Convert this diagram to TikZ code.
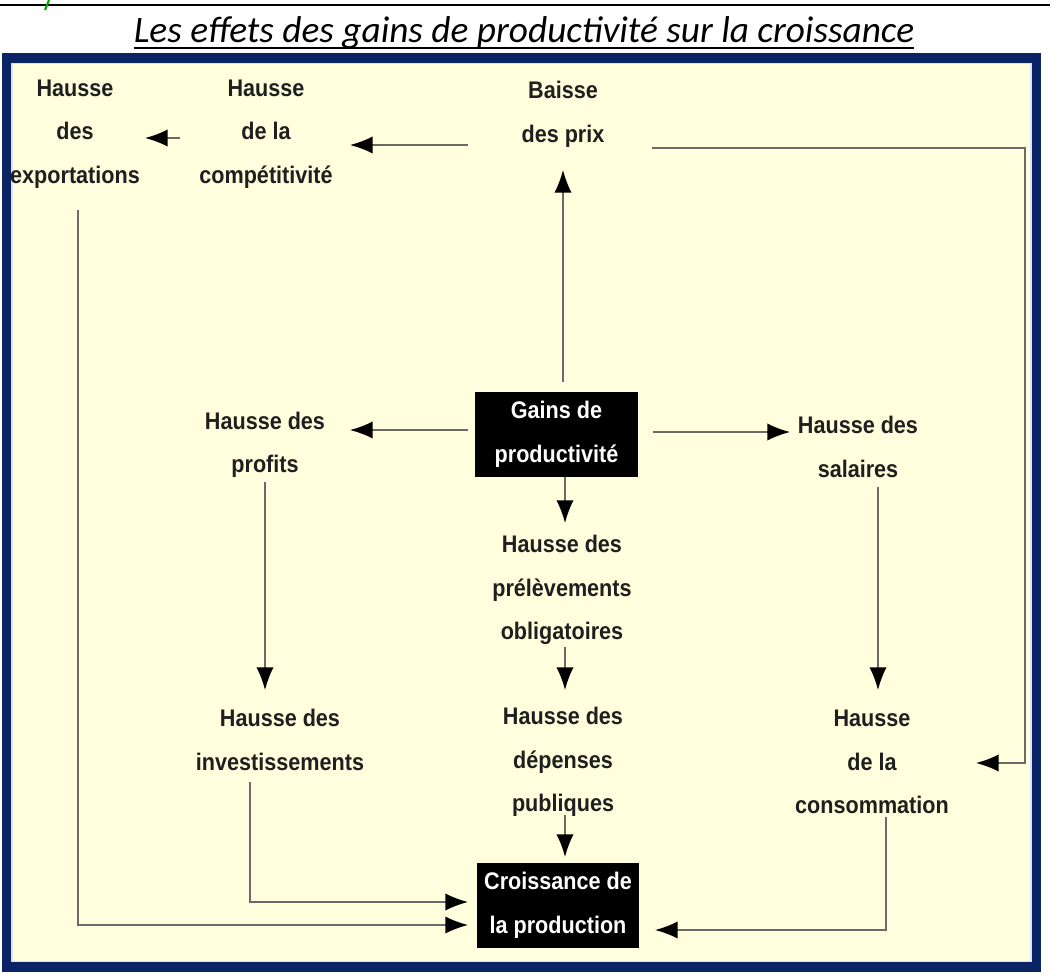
\documentclass[tikz,border=0pt]{standalone}
\usepackage{fontspec}
\setmainfont[FakeStretch=0.9]{Liberation Sans}
\newfontfamily\titlefont{Carlito}
\usetikzlibrary{arrows.meta,calc}

\definecolor{framenavy}{HTML}{0B2466}
\definecolor{paper}{HTML}{FFFEDD}
\definecolor{linegray}{HTML}{6A6A6A}

\tikzset{
  effet/.style={align=center, inner sep=0pt, text=black!88,
    font=\bfseries\fontsize{18}{32.6}\selectfont},
  blackbox/.style={effet, fill=black, text=white,
    minimum width=122pt, minimum height=64pt},
  link/.style={draw=linegray, line width=1.2pt},
  arr/.style={link, -{Latex[length=17pt,width=13pt,color=black]}},
}

\begin{document}
\begin{tikzpicture}[x=0.75pt,y=-0.75pt]
  \useasboundingbox (0,0) rectangle (1057,975);

  % title
  \draw[line width=2pt] (0,5) -- (1050,5);
  \draw[green!65!black, line width=1.6pt] (49,0) -- (45,10);
  \node[anchor=base, inner sep=0pt,
    font=\titlefont\itshape\fontsize{28}{32}\selectfont]
  (titre) at (524,42) {Les effets des gains de productivité sur la croissance};
  \draw[line width=1.3pt] ($(titre.base west)+(0,6)$) -- ($(titre.base east)+(0,6)$);

  % frame
  \draw[framenavy, fill=paper, line width=7.5pt] (7,58) rectangle (1036,967);
  \draw[blue!12, line width=0.8pt] (12,63.5) rectangle (1031,961.5);

  % effects
  \node[effet] (export) at (75,134) {Hausse\\des\\exportations};
  \node[effet] (compet) at (266,134) {Hausse\\de la\\compétitivité};
  \node[effet] (prix) at (563,114.5) {Baisse\\des prix};
  \node[blackbox] (gains) at (556.5,434.5) {Gains de\\productivité};
  \node[effet] (profits) at (265,445) {Hausse des\\profits};
  \node[effet] (salaires) at (858,447) {Hausse des\\salaires};
  \node[effet] (prelev) at (562,590) {Hausse des\\prélèvements\\obligatoires};
  \node[effet] (invest) at (280,740) {Hausse des\\investissements};
  \node[effet] (depenses) at (563,762) {Hausse des\\dépenses\\publiques};
  \node[effet] (conso) at (872,762) {Hausse\\de la\\consommation};
  \node[blackbox] (croiss) at (558,905.5) {Croissance de\\la production};

  % top row
  \draw[arr] ($(prix)+(-95,30.5)$) -- ($(compet)+(84,11)$);
  \draw[arr] ($(compet)+(-86,4)$) -- ($(export)+(70,4)$);
  \draw[arr] ($(prix)+(89,33.5)$) -| ($(conso)+(153,1)$) -- ($(conso)+(104,1)$);

  % from the gains
  \draw[arr] ($(gains)+(6.5,-52.5)$) -- ($(prix)+(0,55.5)$);
  \draw[arr] ($(gains)+(-88.5,-4.5)$) -- ($(profits)+(85,-15)$);
  \draw[arr] ($(gains)+(96.5,-2.5)$) -- ($(salaires)+(-68,-15)$);
  \draw[arr] ($(gains)+(8.5,42.5)$) -- ($(prelev)+(3,-67)$);
  \draw[arr] ($(prelev)+(3,57)$) -- ($(depenses)+(2,-72)$);
  \draw[arr] ($(profits)+(0,37)$) -- ($(invest)+(-15,-50)$);
  \draw[arr] ($(salaires)+(20,40)$) -- ($(conso)+(6,-72)$);

  % towards growth
  \draw[arr] ($(depenses)+(2,53)$) -- ($(croiss)+(7,-48.5)$);
  \draw[arr] ($(invest)+(-30,42)$) |- ($(croiss)+(-90,-3.5)$);
  \draw[arr] ($(export)+(3,76)$) |- ($(croiss)+(-90,19.5)$);
  \draw[arr] ($(conso)+(14,55)$) |- ($(croiss)+(97,24.5)$);
\end{tikzpicture}
\end{document}
